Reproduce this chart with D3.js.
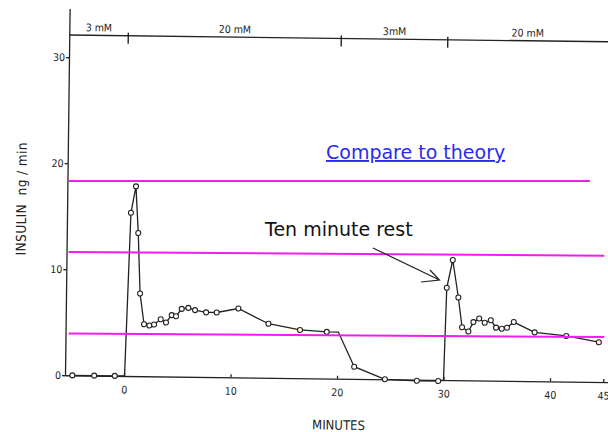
<!DOCTYPE html>
<html>
<head>
<script src="https://d3js.org/d3.v7.min.js"></script>
<title> Insulin secretion </title>
<style>
body { margin: 0; background: #fff; }
#root { width: 608px; height: 432px; display: block; }
.tick text, .lbl { font-family: "DejaVu Sans Condensed", "DejaVu Sans", sans-serif; fill: #222; }
</style>
</head>
<body>
<svg id="root" width="608" height="432"></svg>

<script>
// sampled secretion trace (minutes, ng/min)
let minutes = [-4.85, -2.8, -0.87, 0.05, 0.46, 0.9, 1.17, 1.41, 1.82, 2.32, 2.76, 3.38, 3.88, 4.41, 4.81, 5.34, 5.96, 6.59, 7.63, 8.63,
	10.66, 13.5, 16.47, 18.98, 20.07, 21.6, 24.5, 27.5, 29.5, 30.0, 30.2, 30.73, 31.3, 31.68, 32.28, 32.74, 33.28, 33.8, 34.37, 34.87,
	35.41, 35.9, 36.53, 38.5, 41.48, 44.54]
let insulin = [0, 0, 0, 0, 15.4, 17.9, 13.5, 7.8, 4.9, 4.8, 4.9, 5.4, 5.1, 5.8, 5.7, 6.4, 6.5, 6.3, 6.1, 6.1,
	6.5, 5.1, 4.55, 4.4, 4.4, 1.15, 0, -0.1, -0.1, 0, 8.7, 11.33, 7.8, 5.0, 4.6, 5.5, 5.85, 5.45, 5.7, 5.0,
	4.9, 5.0, 5.55, 4.6, 4.3, 3.75]
let unmarked = [3, 24, 29]   // corners of the trace with no sample circle

let xTicks = [0, 10, 20, 30, 40, 45]
let yTicks = [0, 10, 20, 30]

// glucose phases along the top bar
let phaseBounds = [-5.54, 0, 20, 30, 45]
let phaseLabels = ['3 mM', '20 mM', '3mM', '20 mM']

// overlaid "theory" levels (left end, right end)
let theoryLeft = [18.4, 11.7, 4.0]
let theoryRight = [18.4, 11.35, 3.68]
let theoryEnd = [43.75, 45.1, 45.1]

let svg = d3.select('#root')

let x = d3.scaleLinear().domain([-5.54, 45.5]).range([65, 608.6])
let y = d3.scaleLinear().domain([0, 34.6]).range([376, 9.2])

// the scanned figure sits slightly rotated
let chart = svg.append('g').attr('transform', 'rotate(0.72,' + x(0) + ',' + y(0) + ')')

let yAxis = chart.append('g')
	.attr('transform', 'translate(' + x(-5.54) + ',0)')
	.call(d3.axisLeft(y).tickValues(yTicks).tickSizeInner(3).tickSizeOuter(0).tickPadding(1))
let xAxis = chart.append('g')
	.attr('transform', 'translate(0,' + y(0) + ')')
	.call(d3.axisBottom(x).tickValues(xTicks).tickSizeInner(-3).tickSizeOuter(0).tickPadding(10))

chart.selectAll('.domain, .tick line').attr('stroke', '#222').attr('stroke-width', 1.3)
chart.selectAll('.tick text').attr('font-size', 10.5).attr('font-family', null)

// top bar with phase marks
let barY = y(32.1)
chart.append('line')
	.attr('x1', x(-5.54)).attr('x2', x(45.5))
	.attr('y1', barY).attr('y2', barY)
	.attr('stroke', '#222').attr('stroke-width', 1.3)

chart.selectAll('.phaseTick').data(phaseBounds.slice(1, 4)).enter()
	.append('line').attr('class', 'phaseTick')
	.attr('x1', d => x(d)).attr('x2', d => x(d))
	.attr('y1', barY - 3).attr('y2', barY + 8)
	.attr('stroke', '#222').attr('stroke-width', 1.4)

chart.selectAll('.phaseLabel').data(phaseLabels).enter()
	.append('text').attr('class', 'lbl phaseLabel')
	.attr('x', (d, i) => x((phaseBounds[i] + phaseBounds[i + 1]) / 2))
	.attr('y', barY - 4)
	.attr('text-anchor', 'middle')
	.attr('font-size', 10.5)
	.attr('font-family', 'DejaVu Sans, sans-serif')
	.text(d => d)

// trace
let points = minutes.map((m, i) => ({ m: m, v: insulin[i], i: i }))

chart.append('path')
	.datum(points)
	.attr('fill', 'none')
	.attr('stroke', '#222')
	.attr('stroke-width', 1.3)
	.attr('d', d3.line().x(d => x(d.m)).y(d => y(d.v)))

chart.selectAll('.sample').data(points.filter(d => unmarked.indexOf(d.i) < 0)).enter()
	.append('circle').attr('class', 'sample')
	.attr('cx', d => x(d.m)).attr('cy', d => y(d.v))
	.attr('r', 2.5)
	.attr('fill', '#fff')
	.attr('stroke', '#222')
	.attr('stroke-width', 1.1)

// axis titles
chart.append('text').attr('class', 'lbl')
	.attr('x', x(20.2)).attr('y', 427)
	.attr('text-anchor', 'middle')
	.attr('font-size', 13)
	.attr('font-family', 'Liberation Sans, sans-serif')
	.text('MINUTES')

chart.append('text').attr('class', 'lbl')
	.attr('transform', 'translate(24,200) rotate(-90)')
	.attr('text-anchor', 'middle')
	.attr('font-size', 13.5)
	.attr('letter-spacing', 0.4)
	.attr('font-family', 'Liberation Sans, sans-serif')
	.attr('xml:space', 'preserve')
	.text('INSULIN  ng / min')

// overlays
svg.selectAll('.theory').data(theoryLeft).enter()
	.append('line').attr('class', 'theory')
	.attr('x1', x(-5.2)).attr('x2', (d, i) => x(theoryEnd[i]))
	.attr('y1', d => y(d)).attr('y2', (d, i) => y(theoryRight[i]))
	.attr('stroke', '#f01cf0').attr('stroke-width', 2)

svg.append('text')
	.attr('x', 326).attr('y', 159)
	.attr('font-family', 'DejaVu Sans, sans-serif')
	.attr('font-size', 19)
	.attr('fill', '#2b2bf0')
	.attr('text-decoration', 'underline')
	.text('Compare to theory')

svg.append('text')
	.attr('x', 265).attr('y', 236)
	.attr('font-family', 'DejaVu Sans, sans-serif')
	.attr('font-size', 19)
	.attr('fill', '#111')
	.text('Ten minute rest')

svg.append('path')
	.attr('d', 'M373,248 L439.5,280 M421,282 L439.5,280 L430,270')
	.attr('fill', 'none')
	.attr('stroke', '#222')
	.attr('stroke-width', 1.2)
</script>
</body>
</html>
